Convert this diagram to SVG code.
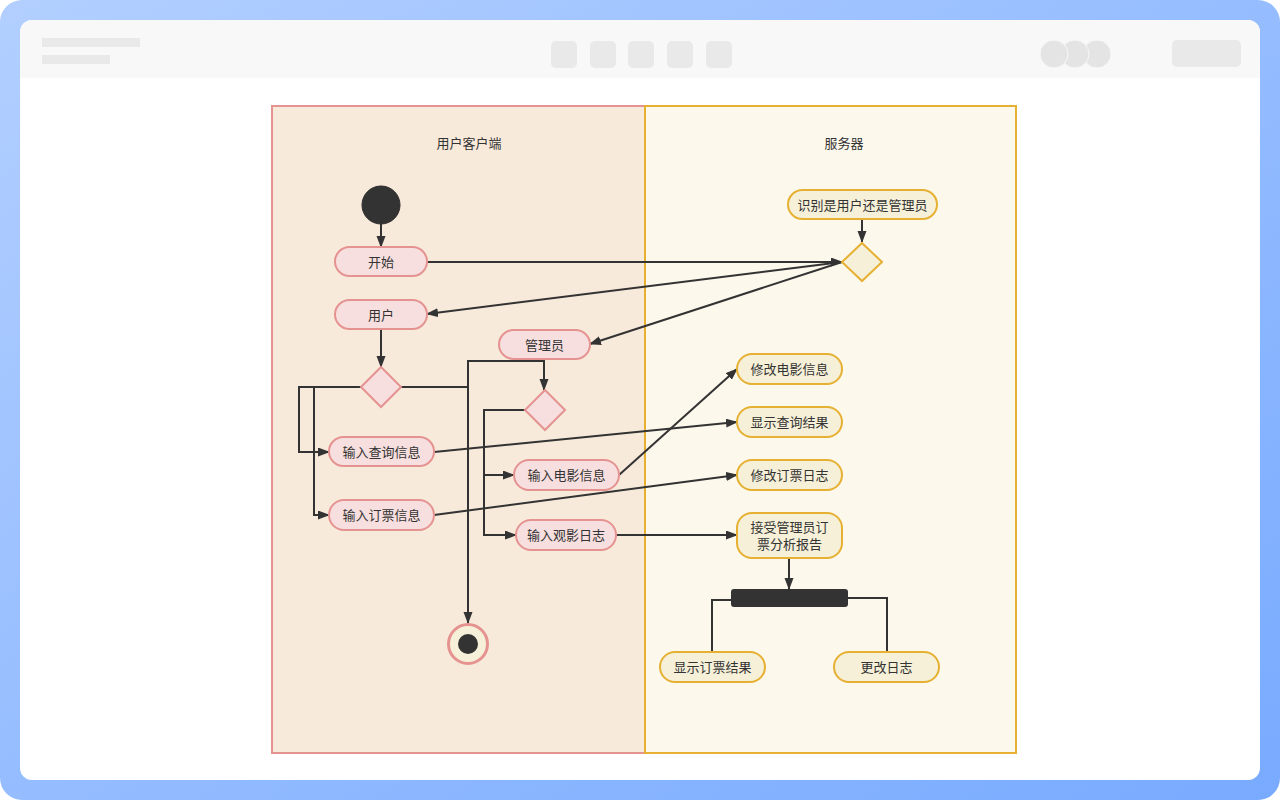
<svg xmlns="http://www.w3.org/2000/svg" width="1280" height="800" viewBox="0 0 1280 800">
<defs>
<linearGradient id="bg" x1="0" y1="0" x2="1" y2="1">
<stop offset="0" stop-color="#b2cfff"/>
<stop offset="1" stop-color="#78aaff"/>
</linearGradient>
<marker id="arr" markerUnits="userSpaceOnUse" markerWidth="12" markerHeight="10" refX="11" refY="4.5" orient="auto">
<path d="M0,0 L12,4.5 L0,9 z" fill="#333"/>
</marker>
<style>
.t{font-family:"Noto Sans CJK SC","Liberation Sans",sans-serif;font-size:13px;fill:#333;text-anchor:middle;dominant-baseline:central}
.pk{fill:#f7dfdf;stroke:#e59391;stroke-width:2}
.yl{fill:#f6f0d8;stroke:#e6b032;stroke-width:2}
.c{fill:none;stroke:#333;stroke-width:2}
.ca{fill:none;stroke:#333;stroke-width:2;marker-end:url(#arr)}
.ph{fill:#e9e9e9}
</style>
</defs>
<rect x="0" y="0" width="1280" height="800" rx="22" fill="url(#bg)"/>
<rect x="20" y="20" width="1240" height="760" rx="12" fill="#ffffff"/>
<path d="M32,20 H1248 A12,12 0 0 1 1260,32 V78 H20 V32 A12,12 0 0 1 32,20 z" fill="#f8f8f8"/>
<rect class="ph" x="42" y="38" width="98" height="9"/>
<rect class="ph" x="42" y="55" width="68" height="9"/>
<rect class="ph" x="551" y="41" width="26" height="27" rx="5"/>
<rect class="ph" x="590" y="41" width="26" height="27" rx="5"/>
<rect class="ph" x="628" y="41" width="26" height="27" rx="5"/>
<rect class="ph" x="667" y="41" width="26" height="27" rx="5"/>
<rect class="ph" x="706" y="41" width="26" height="27" rx="5"/>
<circle cx="1097" cy="54" r="14" fill="#e4e4e4" stroke="#f8f8f8" stroke-width="1"/>
<circle cx="1075" cy="54" r="14" fill="#e4e4e4" stroke="#f8f8f8" stroke-width="1"/>
<circle cx="1054" cy="54" r="14" fill="#e4e4e4" stroke="#f8f8f8" stroke-width="1"/>
<rect class="ph" x="1172" y="40" width="69" height="27" rx="5"/>

<g id="lane-client">
<rect x="272" y="106" width="373" height="647" fill="#f8eadb" stroke="#e59391" stroke-width="2"/>
<text class="t" x="469" y="142">用户客户端</text>
</g>
<g id="lane-server">
<rect x="645" y="106" width="371" height="647" fill="#fdf8ec" stroke="#e6b032" stroke-width="2"/>
<text class="t" x="844" y="142">服务器</text>
</g>

<g id="connectors">
<path class="ca" d="M381,224 V247"/>
<path class="ca" d="M427,262 H842"/>
<path class="ca" d="M862,219 V242"/>
<path class="ca" d="M842,262 L427,314"/>
<path class="ca" d="M842,262 L590,344"/>
<path class="ca" d="M381,329 V367"/>
<path class="ca" d="M361,387 H299 V452 H329"/>
<path class="ca" d="M314,387 V515 H329"/>
<path class="c" d="M401,387 H468"/>
<path class="ca" d="M544,359 V361 H468 V623"/>
<path class="ca" d="M544,361 V390"/>
<path class="ca" d="M525,410 H484 V475 H514"/>
<path class="ca" d="M484,475 V535 H516"/>
<path class="ca" d="M434,452 L737,422"/>
<path class="ca" d="M619,475 L737,369"/>
<path class="ca" d="M434,515 L737,475"/>
<path class="ca" d="M616,535 H737"/>
<path class="ca" d="M789,558 V589"/>
<path class="c" d="M731,600 H712 V652"/>
<path class="c" d="M848,598 H887 V652"/>
</g>

<g id="start"><circle cx="381" cy="205" r="19" fill="#333" stroke="#2a2a2a" stroke-width="1"/></g>
<g id="n-kaishi"><rect class="pk" x="335" y="247" width="92" height="29" rx="14.5"/><text class="t" x="381" y="261">开始</text></g>
<g id="n-user"><rect class="pk" x="335" y="300" width="92" height="29" rx="14.5"/><text class="t" x="381" y="314">用户</text></g>
<g id="n-admin"><rect class="pk" x="499" y="330" width="91" height="29" rx="14.5"/><text class="t" x="544.5" y="344">管理员</text></g>
<g id="d-user"><path class="pk" d="M381,367 L401,387 L381,407 L361,387 z"/></g>
<g id="d-admin"><path class="pk" d="M545,390 L565,410 L545,430 L525,410 z"/></g>
<g id="n-query"><rect class="pk" x="329" y="437" width="105" height="29" rx="14.5"/><text class="t" x="381.5" y="451">输入查询信息</text></g>
<g id="n-ticket"><rect class="pk" x="329" y="500" width="105" height="30" rx="15"/><text class="t" x="381.5" y="514">输入订票信息</text></g>
<g id="n-movie"><rect class="pk" x="514" y="460" width="105" height="30" rx="15"/><text class="t" x="566.5" y="474">输入电影信息</text></g>
<g id="n-viewlog"><rect class="pk" x="516" y="520" width="100" height="30" rx="15"/><text class="t" x="566" y="534">输入观影日志</text></g>
<g id="end"><circle cx="468" cy="644" r="19.5" fill="#f6f0d8" stroke="#e59391" stroke-width="3"/><circle cx="468" cy="644" r="10" fill="#333"/></g>

<g id="n-identify"><rect class="yl" x="788" y="190" width="149" height="29" rx="14.5"/><text class="t" x="862.5" y="204">识别是用户还是管理员</text></g>
<g id="d-server"><path class="yl" d="M862,243 L882,262 L862,281 L842,262 z"/></g>
<g id="n-modmovie"><rect class="yl" x="737" y="354" width="105" height="30" rx="15"/><text class="t" x="789.5" y="368">修改电影信息</text></g>
<g id="n-showquery"><rect class="yl" x="737" y="407" width="105" height="30" rx="15"/><text class="t" x="789.5" y="421">显示查询结果</text></g>
<g id="n-modlog"><rect class="yl" x="737" y="460" width="105" height="30" rx="15"/><text class="t" x="789.5" y="474">修改订票日志</text></g>
<g id="n-report"><rect class="yl" x="737" y="513" width="105" height="45" rx="15"/><text class="t" x="789.5" y="526">接受管理员订</text><text class="t" x="789.5" y="543">票分析报告</text></g>
<g id="fork"><rect x="731" y="589" width="117" height="18" rx="3" fill="#333"/></g>
<g id="n-showticket"><rect class="yl" x="660" y="652" width="105" height="30" rx="15"/><text class="t" x="712.5" y="666">显示订票结果</text></g>
<g id="n-changelog"><rect class="yl" x="834" y="652" width="105" height="30" rx="15"/><text class="t" x="886.5" y="666">更改日志</text></g>
</svg>
